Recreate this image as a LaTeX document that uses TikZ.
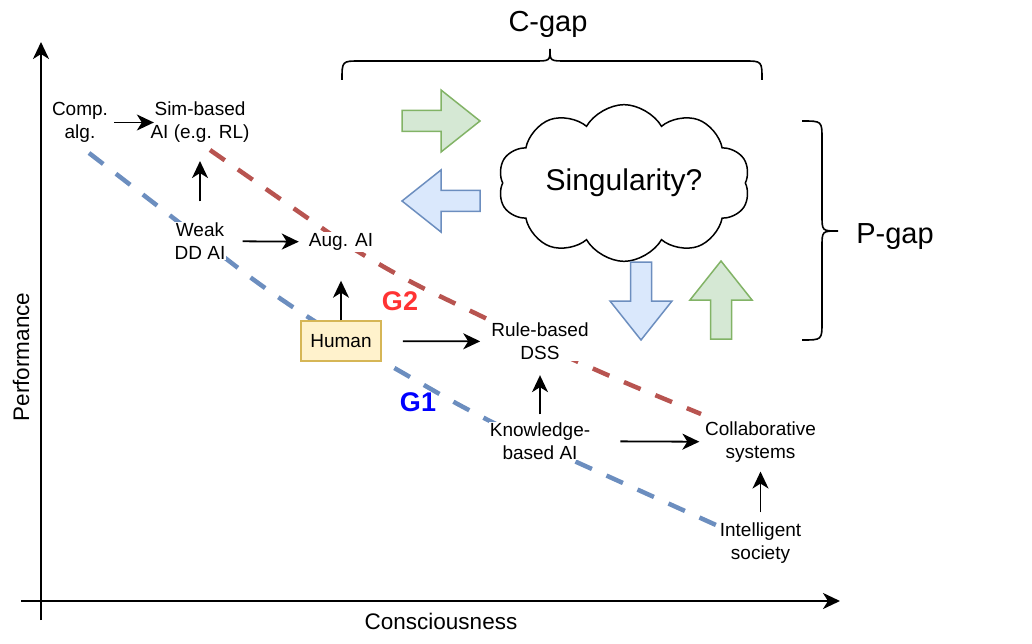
\documentclass[tikz,border=0pt]{standalone}
\usepackage{fontspec}
\setmainfont{Liberation Sans}
\usetikzlibrary{arrows.meta,shapes.symbols}

\definecolor{gonedash}{HTML}{6C8EBF}
\definecolor{gtwodash}{HTML}{B85450}
\definecolor{gonetext}{HTML}{0000FF}
\definecolor{gtwotext}{HTML}{FF3333}
\definecolor{greenfill}{HTML}{D5E8D4}
\definecolor{greenline}{HTML}{82B366}
\definecolor{bluefill}{HTML}{DAE8FC}
\definecolor{blueline}{HTML}{6C8EBF}
\definecolor{humanfill}{HTML}{FFF2CC}
\definecolor{humanline}{HTML}{D6B656}

\tikzset{
  txt/.style={align=center,fill=white,inner sep=1pt,font=\fontsize{19}{23}\selectfont},
  human/.style={draw=humanline,fill=humanfill,line width=1.5pt,minimum width=80pt,minimum height=40pt,inner sep=0pt,font=\fontsize{19}{23}\selectfont},
  link/.style={->,line width=1.8pt},
  gdash/.style={line width=4.5pt,dash pattern=on 18pt off 16pt,rounded corners=60pt},
  glabel/.style={font=\bfseries\fontsize{27}{30}\selectfont},
  gaptext/.style={font=\fontsize{29}{34}\selectfont},
  axistext/.style={font=\fontsize{22.5}{27}\selectfont},
  greenarrow/.style={draw=greenline,fill=greenfill,line width=1.5pt},
  bluearrow/.style={draw=blueline,fill=bluefill,line width=1.5pt}
}

\newcommand{\fatarrow}[4]{%
  \draw[#4,shift={(#1,#2)},rotate=#3] (-39,-10.5) -- (0,-10.5) -- (0,-31) -- (39,0)
    -- (0,31) -- (0,10.5) -- (-39,10.5) -- cycle;}

\begin{document}
\begin{tikzpicture}[x=1pt,y=-1pt,>={Stealth[length=17pt,width=16pt,inset=5pt]}]
\useasboundingbox (0,0) rectangle (1032,644);

% axes
\coordinate (ybot) at (41,620);
\coordinate (ytop) at (41,42);
\coordinate (xleft) at (21,601);
\coordinate (xright) at (840,601);
\draw[->,line width=2.6pt] (ybot) -- (ytop);
\draw[->,line width=2.6pt] (xleft) -- (xright);
\node[axistext,rotate=90] (perf) at (21,357) {Performance};
\node[axistext] (cons) at (441,621) {Consciousness};

% G1 and G2
\draw[gdash,gonedash] (89,153) -- (290,308) -- (490,423) -- (716,525);
\draw[gdash,gtwodash] (210,150) -- (375,265) -- (587,367) -- (701,414);
\node[glabel,text=gonetext] (gone) at (418,402) {G1};
\node[glabel,text=gtwotext] (gtwo) at (400,301) {G2};

\node[txt] (comp) at (80,122.5) {Comp.\\alg.};
\node[txt] (sim) at (200,122.5) {Sim-based\\AI (e.g. RL)};
\node[txt] (weak) at (200,241) {Weak\\DD AI};
\node[txt] (aug) at (341,242) {Aug. AI};
\node[human] (hum) at (341,341) {Human};
\node[txt] (rule) at (540,341.5) {Rule-based\\DSS};
\node[txt] (know) at (540,441) {Knowledge-\\based AI};
\node[txt] (collab) at (760.5,442) {Collaborative\\systems};
\node[txt] (intel) at (760.5,543) {Intelligent\\society};

\path[link] (comp) edge[shorten <=5pt,shorten >=-4.5pt] (sim);
\path[link] (weak) edge[shorten <=20pt,shorten >=17pt] (sim);
\path[link] (weak) edge[shorten <=16pt,shorten >=9pt] (aug);
\path[link] (hum) edge[shorten >=29pt] (aug);
\path[link] (hum) edge[shorten <=21pt,shorten >=10pt] (rule);
\path[link] (know) edge[shorten <=7pt,shorten >=14pt] (rule);
\path[link] (know) edge[shorten <=29pt,shorten >=4.5pt] (collab);
\path[link] (intel) edge[shorten <=9pt,shorten >=8pt] (collab);

% singularity
\node[cloud,draw,line width=1.5pt,cloud puffs=10,cloud puff arc=120,aspect=1.8,
  minimum width=252pt,minimum height=140pt,inner sep=0pt,
  font=\fontsize{30}{36}\selectfont] (sing) at (624,183) {Singularity?};
\fatarrow{441}{121}{0}{greenarrow}
\fatarrow{441}{201}{180}{bluearrow}
\fatarrow{641}{301}{-90}{bluearrow}
\fatarrow{721}{300}{90}{greenarrow}

% gaps
\draw[line width=1.6pt] (342,80) .. controls (342,61) .. (360,61) -- (534,61)
  .. controls (550,61) .. (550,49) .. controls (550,61) .. (566,61) -- (744,61)
  .. controls (762,61) .. (762,80);
\node[gaptext] (cgap) at (548,24) {C-gap};
\draw[line width=1.6pt] (802,121) .. controls (822,121) .. (822,139) -- (822,215)
  .. controls (822,231) .. (838,231) .. controls (822,231) .. (822,247) -- (822,322)
  .. controls (822,340) .. (802,340);
\node[gaptext] (pgap) at (895,237) {P-gap};
\end{tikzpicture}
\end{document}
